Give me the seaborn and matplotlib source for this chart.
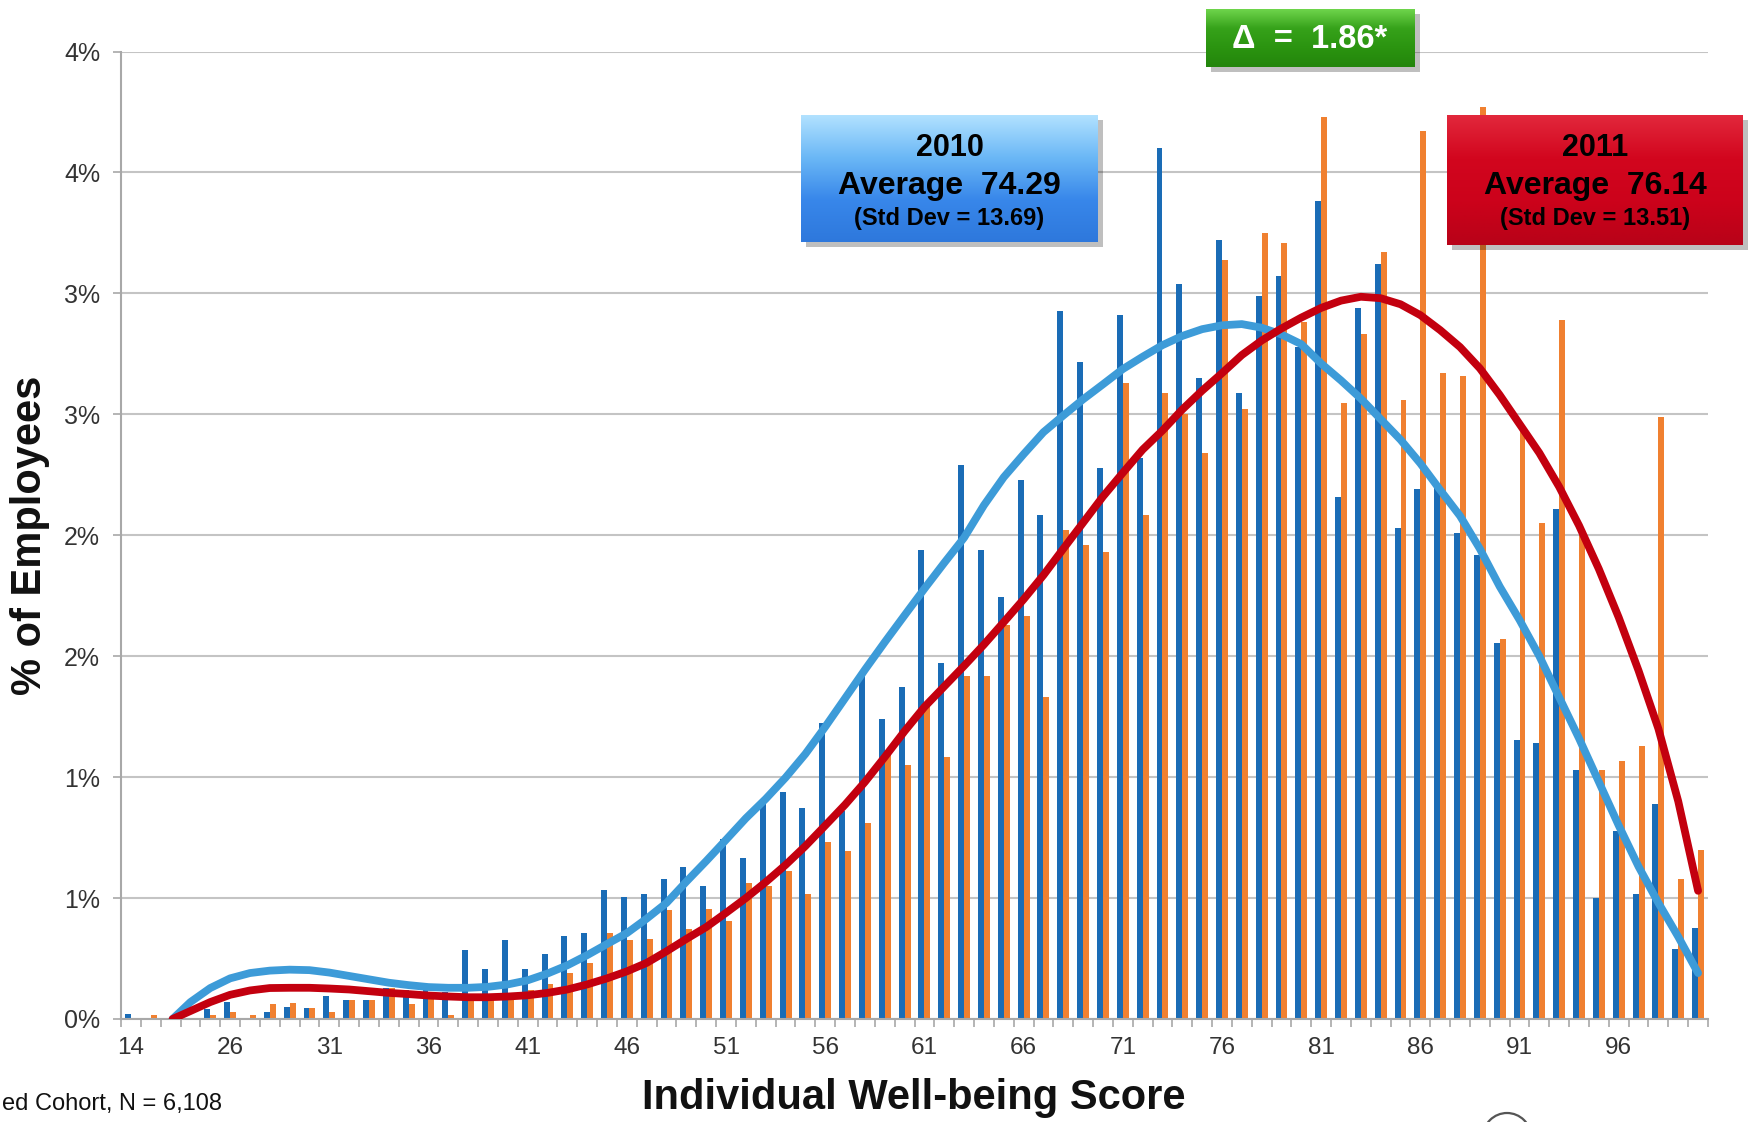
import numpy as np
import pandas as pd
import matplotlib
matplotlib.use("Agg")
import matplotlib.pyplot as plt
from matplotlib.colors import LinearSegmentedColormap
from matplotlib.patches import Rectangle, Circle
import seaborn as sns

# ---------------------------------------------------------------- data
# Individual well-being score bins
scores = [14, 18, 21, 23, 25] + list(range(26, 101))

# % of employees in each score bin
pct_2010 = [0.02, 0.0, 0.0, 0.0, 0.04, 0.07, 0.0, 0.03, 0.05, 0.045,
            0.095, 0.078, 0.078, 0.13, 0.12, 0.12, 0.11, 0.287, 0.207, 0.325,
            0.207, 0.27, 0.342, 0.356, 0.535, 0.505, 0.517, 0.58, 0.627, 0.55,
            0.743, 0.665, 0.90, 0.94, 0.873, 1.225, 0.86, 1.433, 1.24, 1.373,
            1.94, 1.47, 2.29, 1.94, 1.745, 2.227, 2.085, 2.927, 2.715, 2.28,
            2.91, 2.32, 3.60, 3.04, 2.65, 3.22, 2.59, 2.99, 3.07, 2.78,
            3.38, 2.16, 2.94, 3.12, 2.03, 2.19, 2.21, 2.01, 1.92, 1.555,
            1.155, 1.14, 2.11, 1.03, 0.50, 0.776, 0.517, 0.887, 0.29, 0.377]

pct_2011 = [0.0, 0.018, 0.0, 0.0, 0.017, 0.03, 0.018, 0.062, 0.065, 0.046,
            0.03, 0.079, 0.079, 0.13, 0.063, 0.10, 0.018, 0.09, 0.09, 0.09,
            0.12, 0.146, 0.19, 0.23, 0.357, 0.326, 0.33, 0.45, 0.373, 0.454,
            0.407, 0.564, 0.55, 0.61, 0.517, 0.73, 0.695, 0.81, 1.11, 1.05,
            1.31, 1.085, 1.42, 1.42, 1.63, 1.666, 1.33, 2.02, 1.96, 1.93,
            2.63, 2.085, 2.59, 2.50, 2.34, 3.14, 2.52, 3.25, 3.21, 2.88,
            3.73, 2.545, 2.83, 3.17, 2.56, 3.67, 2.67, 2.66, 3.77, 1.57,
            2.44, 2.05, 2.89, 2.00, 1.03, 1.066, 1.128, 2.49, 0.58, 0.70]

# Polynomial trend lines (position along the bin axis, % of employees)
trend_pos = [2.1] + list(range(3, 80))
trend_2010 = [0.0, 0.07, 0.128, 0.168, 0.19, 0.2, 0.204, 0.202, 0.192, 0.178,
              0.164, 0.15, 0.14, 0.132, 0.129, 0.129, 0.133, 0.143, 0.16, 0.188,
              0.222, 0.264, 0.31, 0.355, 0.415, 0.48, 0.568, 0.653, 0.741, 0.83,
              0.91, 0.998, 1.096, 1.208, 1.326, 1.444, 1.558, 1.669, 1.779, 1.886,
              1.99, 2.124, 2.24, 2.335, 2.426, 2.495, 2.562, 2.624, 2.687, 2.738,
              2.786, 2.824, 2.852, 2.868, 2.873, 2.858, 2.83, 2.79, 2.71, 2.64,
              2.565, 2.48, 2.395, 2.297, 2.187, 2.08, 1.944, 1.788, 1.65, 1.5,
              1.33, 1.16, 0.98, 0.8, 0.63, 0.48, 0.34, 0.19]
trend_2011 = [0.0, 0.033, 0.07, 0.1, 0.118, 0.128, 0.129, 0.129, 0.126, 0.122,
              0.115, 0.108, 0.103, 0.097, 0.093, 0.09, 0.09, 0.093, 0.098, 0.108,
              0.122, 0.143, 0.168, 0.197, 0.232, 0.28, 0.331, 0.38, 0.439, 0.5,
              0.566, 0.637, 0.715, 0.8, 0.886, 0.98, 1.083, 1.19, 1.29, 1.375,
              1.46, 1.548, 1.641, 1.735, 1.835, 1.944, 2.052, 2.16, 2.258, 2.354,
              2.433, 2.52, 2.598, 2.67, 2.745, 2.805, 2.855, 2.9, 2.94, 2.97,
              2.986, 2.98, 2.955, 2.91, 2.848, 2.778, 2.69, 2.58, 2.46, 2.34,
              2.2, 2.04, 1.86, 1.66, 1.44, 1.2, 0.9, 0.53]

y_ticks = [0.0, 0.5, 1.0, 1.5, 2.0, 2.5, 3.0, 3.5, 4.0]
y_tick_labels = ["0%", "1%", "1%", "2%", "2%", "3%", "3%", "4%", "4%"]
label_step = 5

years = ["2010", "2011"]
averages = ["74.29", "76.14"]
std_devs = ["13.69", "13.51"]
delta_text = "1.86*"
footnote = "ed Cohort, N = 6,108"

# ---------------------------------------------------------------- style
BAR_BLUE = "#1a6cb6"
BAR_ORANGE = "#f08030"
LINE_BLUE = "#3d9bd8"
LINE_RED = "#c3000f"
GRID = "#c4c4c4"
AXIS = "#a8a8a8"

W, H = 1756, 1122
sns.set_theme(style="white")
plt.rcParams["font.family"] = ["Liberation Sans", "DejaVu Sans"]

fig = plt.figure(figsize=(W / 100, H / 100), dpi=100)
fig.patch.set_facecolor("white")


def px_rect(x0, y0, x1, y1):
    """Figure-fraction rectangle from pixel box (origin top-left)."""
    return [x0 / W, 1 - y1 / H, (x1 - x0) / W, (y1 - y0) / H]


ax = fig.add_axes(px_rect(121, 51.5, 1708, 1019))

df = pd.DataFrame({
    "score": scores * 2,
    "year": ["2010"] * len(scores) + ["2011"] * len(scores),
    "pct": pct_2010 + pct_2011,
})

sns.barplot(data=df, x="score", y="pct", hue="year", order=scores,
            hue_order=years, palette={"2010": BAR_BLUE, "2011": BAR_ORANGE},
            width=0.6, saturation=1, dodge=True, legend=False,
            errorbar=None, linewidth=0, ax=ax, zorder=2)

ax.plot(trend_pos, trend_2010, color=LINE_BLUE, lw=5.6, zorder=4,
        solid_capstyle="round", solid_joinstyle="round")
ax.plot(trend_pos, trend_2011, color=LINE_RED, lw=5.6, zorder=5,
        solid_capstyle="round", solid_joinstyle="round")

# axes, ticks, grid
n = len(scores)
ax.set_xlim(-0.5, n - 0.5)
ax.set_ylim(0, 4.0)
ax.set_yticks(y_ticks)
ax.set_yticklabels(y_tick_labels)
major = list(range(0, n, label_step))
ax.set_xticks(major)
ax.set_xticklabels([str(scores[i]) for i in major])
ax.set_xticks(np.arange(-0.5, n, 1.0), minor=True)
ax.tick_params(axis="x", which="major", length=0, pad=13, labelsize=17.5,
               labelcolor="#333333")
ax.tick_params(axis="x", which="minor", length=6, width=1.2, color=AXIS,
               direction="out", bottom=True)
ax.tick_params(axis="y", which="major", length=6, width=1.2, color=AXIS,
               pad=9, labelsize=18, labelcolor="#333333", left=True)
ax.set_xlabel("")
ax.set_ylabel("")
ax.yaxis.grid(True, color=GRID, lw=1.5, zorder=0)
ax.xaxis.grid(False)
ax.set_axisbelow(True)
for side in ("top", "right"):
    ax.spines[side].set_visible(False)
for side in ("left", "bottom"):
    ax.spines[side].set_color(AXIS)
    ax.spines[side].set_linewidth(1.5)

fig.text(30 / W, 1 - 535 / H, "% of Employees", rotation=90, ha="center",
         va="center", fontsize=30, fontweight="bold", color="#111111")
fig.text(914 / W, 1 - 1098 / H, "Individual Well-being Score", ha="center",
         va="center", fontsize=30, fontweight="bold", color="#111111")
fig.text(2 / W, 1 - 1104 / H, footnote, ha="left", va="center",
         fontsize=17, color="#111111")


# ---------------------------------------------------------------- callouts
def gradient_box(x0, y0, x1, y1, colors):
    fig.patches.append(Rectangle(((x0 + 5) / W, 1 - (y1 + 5) / H),
                                 (x1 - x0) / W, (y1 - y0) / H,
                                 transform=fig.transFigure, facecolor="black",
                                 alpha=0.25, edgecolor="none", zorder=5))
    bax = fig.add_axes(px_rect(x0, y0, x1, y1), zorder=6)
    grad = np.linspace(0, 1, 256)[:, None]
    cmap = LinearSegmentedColormap.from_list("box", colors)
    bax.imshow(grad, aspect="auto", cmap=cmap, extent=[0, 1, 0, 1],
               origin="upper")
    bax.set_axis_off()


def year_box(x0, y0, x1, y1, colors, year, avg, sd):
    gradient_box(x0, y0, x1, y1, colors)
    cx = (x0 + x1) / 2
    fig.text(cx / W, 1 - 148 / H, year, ha="center", va="center",
             fontsize=22, fontweight="bold", color="black", zorder=10)
    fig.text(cx / W, 1 - 186 / H, f"Average  {avg}", ha="center",
             va="center", fontsize=23, fontweight="bold", color="black",
             zorder=10)
    fig.text(cx / W, 1 - 219 / H, f"(Std Dev = {sd})", ha="center",
             va="center", fontsize=17, fontweight="bold", color="black",
             zorder=10)


year_box(801, 115, 1098, 242, ["#b2e2ff", "#6bb8f6", "#3887ea", "#2e78dc"],
         years[0], averages[0], std_devs[0])
year_box(1447, 115, 1743, 245, ["#e2283c", "#d2061e", "#cc021b", "#b80218"],
         years[1], averages[1], std_devs[1])

gradient_box(1206, 9, 1415, 67, ["#6fd54c", "#36a21a", "#2b9410", "#23850c"])
fig.text(1310 / W, 1 - 40 / H, f"\u0394  =  {delta_text}", ha="center",
         va="center", fontsize=23.5, fontweight="bold", color="white",
         zorder=10)

# small logo mark at the bottom edge
fig.patches.append(Circle((1507 / 100, (H - 1137) / 100), 0.24,
                          transform=fig.dpi_scale_trans, facecolor="none",
                          edgecolor="#555555", lw=1.6))

fig.savefig("out.png", dpi=100)
